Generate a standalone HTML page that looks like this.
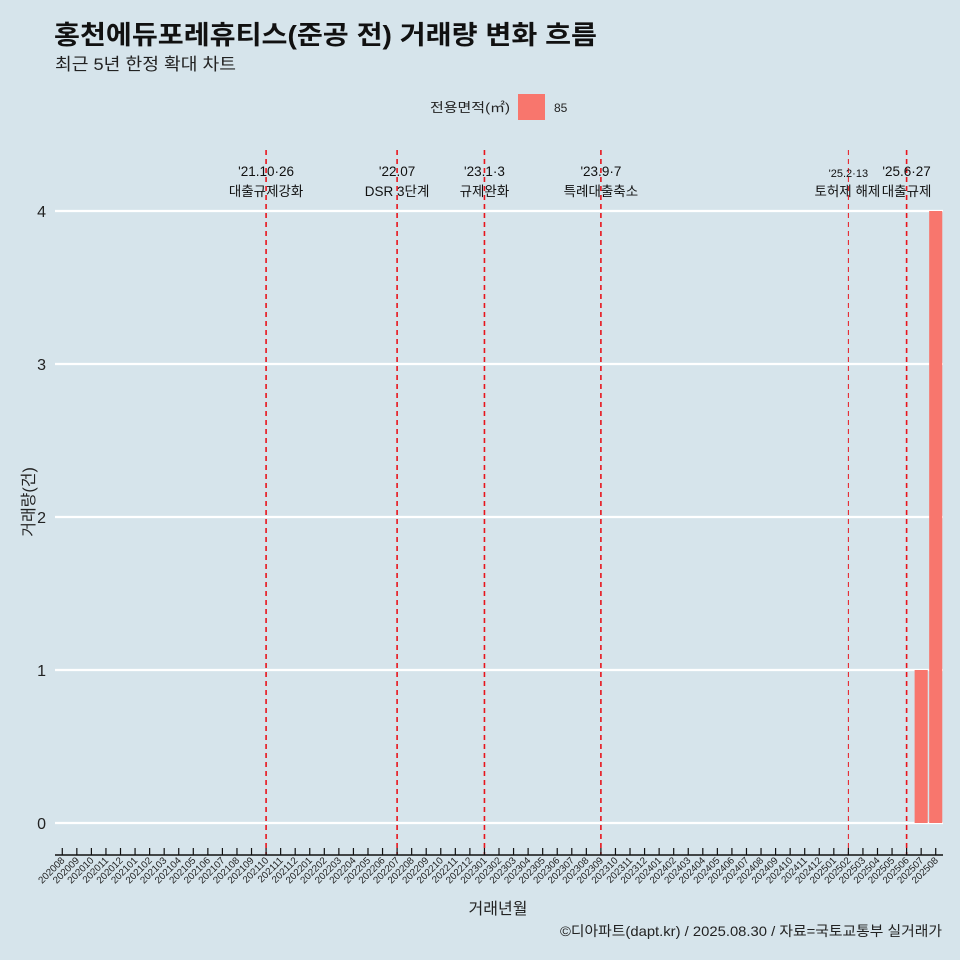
<!DOCTYPE html>
<html><head><meta charset="utf-8"><style>
body{margin:0;background:#d6e4eb;}
svg{display:block;font-family:"Liberation Sans","Noto Sans CJK KR",sans-serif;}
</style></head><body>
<svg id="c" width="960" height="960">
<rect width="960" height="960" fill="#d6e4eb"/>
<text x="54" y="44" font-size="26" font-weight="bold" fill="#111" textLength="543" lengthAdjust="spacingAndGlyphs">홍천에듀포레휴티스(준공 전) 거래량 변화 흐름</text>
<text x="55" y="70" font-size="17" fill="#222" textLength="181" lengthAdjust="spacingAndGlyphs">최근 5년 한정 확대 차트</text>
<g>
<text x="430" y="112" font-size="13" fill="#222" textLength="80" lengthAdjust="spacingAndGlyphs">전용면적(㎡)</text>
<rect x="518" y="94" width="27" height="26" fill="#f8766d"/>
<text x="554" y="112" font-size="12" fill="#222">85</text>
</g>
<g id="grid"></g><g id="bars"></g><g id="events"></g><g id="xaxis"></g>
<text x="498" y="914" font-size="16" text-anchor="middle" fill="#222">거래년월</text>
<text transform="translate(34,502) rotate(-90)" font-size="16" text-anchor="middle" fill="#222">거래량(건)</text>
<text x="942" y="936" font-size="14" text-anchor="end" fill="#222" textLength="382" lengthAdjust="spacingAndGlyphs">©디아파트(dapt.kr) / 2025.08.30 / 자료=국토교통부 실거래가</text>
</svg>
<script>
const categories=[];for(let y=2020,m=8;!(y===2025&&m>8);){categories.push(y+String(m).padStart(2,'0'));m++;if(m>12){m=1;y++;}}
const barMonths=["202507","202508"];
const barValues=[1,4];
const yTicks=[0,1,2,3,4];
const eventMonths=["202110","202207","202301","202309","202502","202506"];
const eventDates=["'21.10·26","'22.07","'23.1·3","'23.9·7","'25.2·13","'25.6·27"];
const eventLabels=["대출규제강화","DSR 3단계","규제완화","특례대출축소","토허제 해제","대출규제"];
const NS="http://www.w3.org/2000/svg";
const x0=55,x1=943,step=(x1-x0)/categories.length;
const xC=c=>x0+step*(categories.indexOf(c)+0.5);
const yS=v=>823-v*153;
function mk(t,a,p,txt){const e=document.createElementNS(NS,t);for(const k in a)e.setAttribute(k,a[k]);if(txt!==undefined)e.textContent=txt;p.appendChild(e);return e;}
const grid=document.getElementById('grid');
yTicks.forEach(v=>{
 const l=mk('line',{x1:x0,x2:x1,y1:yS(v),y2:yS(v),stroke:'#fff','stroke-width':2.2},grid);
 
 
 const t=mk('text',{x:46,y:yS(v)+6,'font-size':16,'text-anchor':'end',fill:'#222'},grid,String(v));
 
 
});
const bars=document.getElementById('bars');
barMonths.forEach((m,i)=>{
 const cx=xC(m),w=step*0.9;
 const r=mk('rect',{x:cx-w/2,y:yS(barValues[i]),width:w,height:yS(0)-yS(barValues[i]),fill:'#f8766d'},bars);
 
 
});
const ev=document.getElementById('events');
eventMonths.forEach((m,i)=>{
 const cx=xC(m),thin=m==="202502";
 const l=mk('line',{x1:cx,x2:cx,y1:150,y2:855,stroke:'#e8141c','stroke-width':thin?1:1.6,'stroke-dasharray':'5,4'},ev);
 
 
 const t1=mk('text',{x:cx,y:thin?177:176,'font-size':thin?11:13.5,'text-anchor':'middle',fill:'#111'},ev,eventDates[i]);
 
 
 const t2=mk('text',{x:cx+(thin?-1:0),y:196,'font-size':13.5,'text-anchor':'middle',fill:'#111'},ev,eventLabels[i]);
 
 
});
const xa=document.getElementById('xaxis');
const al=mk('line',{x1:x0,x2:x1,y1:855,y2:855,stroke:'#111','stroke-width':1.5},xa);


categories.forEach(c=>{
 const cx=xC(c);
 const tk=mk('line',{x1:cx,x2:cx,y1:848,y2:855,stroke:'#111','stroke-width':1.2},xa);
 
 
 const t=mk('text',{transform:`translate(${cx+3},${861}) rotate(-45)`,'font-size':9.8,'text-anchor':'end',fill:'#222'},xa,c);
 
 
});
</script>
</body></html>
